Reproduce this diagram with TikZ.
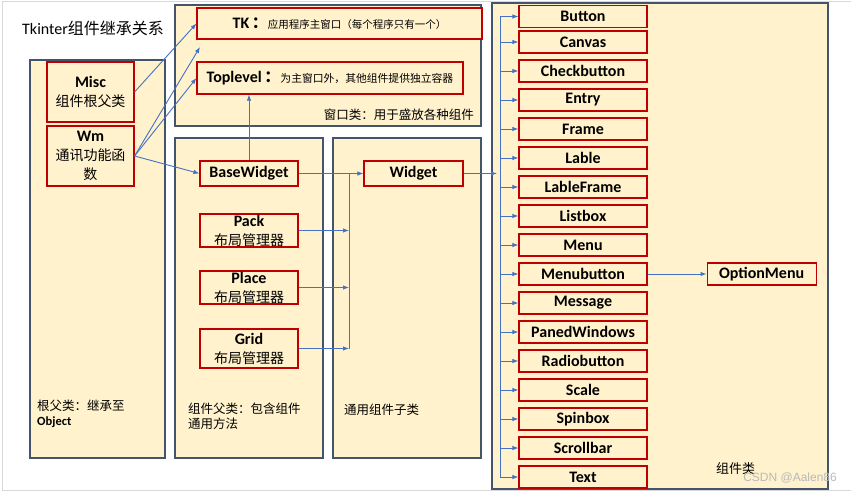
\documentclass[tikz,border=0pt]{standalone}
\usepackage{fontspec}
\setmainfont{Carlito}
\newfontfamily\cjk{Noto Sans CJK SC}
\newfontfamily\wmfont{Liberation Sans}
\usetikzlibrary{positioning,arrows.meta}
\newdimen\itemDist
\itemDist=29pt
\definecolor{paneltan}{HTML}{FFF2CC}
\definecolor{panelgray}{HTML}{44546A}
\definecolor{boxred}{HTML}{C00000}
\definecolor{wireblue}{HTML}{4472C4}
\newcommand{\zh}[2][14]{{\cjk\mdseries\fontsize{#1}{19}\selectfont #2}}

\begin{document}
\begin{tikzpicture}[x=1pt,y=-1pt,
    panel/.style={%
      draw=panelgray,
      fill=paneltan,
      line width=1.1pt,
    },
    cls/.style={%
      draw=boxred,
      fill=paneltan,
      line width=1.1pt,
      rectangle,
      inner sep=0pt,
      align=center,
      font=\fontsize{16}{19}\selectfont\bfseries,
    },
    mgr/.style={cls, minimum width=98pt, minimum height=33pt},
    item/.style={cls, minimum width=128pt, minimum height=22pt},
    note/.style={inner sep=0pt, align=left, anchor=west,
      font=\cjk\fontsize{12.5}{15}\selectfont},
    wire/.style={draw=wireblue, line width=0.9pt},
    arr/.style={wire, -{Latex[length=6pt,width=4.5pt]}},
  ]

    \useasboundingbox (0,0) rectangle (852,492);
    \draw [gray!30] (851,1.5) -- (2.5,1.5) -- (2.5,490.5) -- (851,490.5);

    \node [anchor=west, inner sep=0pt, font=\fontsize{16}{19}\selectfont] (title) at (22,28)
      {Tkinter{\cjk 组件继承关系}};

    \draw [panel] (30,60) rectangle (165,458);
    \draw [panel] (175,5) rectangle (481,126);
    \draw [panel] (175,138) rectangle (323,458);
    \draw [panel] (333,138) rectangle (481,458);
    \draw [panel] (492,3) rectangle (828,489);

    \node [cls, minimum width=87pt, minimum height=60pt] (misc) at (90.5,92) {Misc\\\zh{组件根父类}};
    \node [cls, minimum width=87pt, minimum height=60pt] (wm) at (90.5,156) {Wm\\\zh{通讯功能函}\\\zh{数}};
    \node [cls, minimum width=285pt, minimum height=31pt] (tk) at (339.5,23.5)
      {TK\,{\cjk ：}\zh[10.5]{应用程序主窗口（每个程序只有一个）}};
    \node [cls, minimum width=266pt, minimum height=32pt] (toplevel) at (330,78)
      {Toplevel\,{\cjk ：}\zh[10.8]{为主窗口外，其他组件提供独立容器}};
    \node [cls, minimum width=98pt, minimum height=25pt] (basewidget) at (249,173.5) {BaseWidget};
    \node [cls, minimum width=99pt, minimum height=25pt] (widget) at (413.5,173.5) {Widget};
    \path (basewidget) ++(-90:57pt) node [mgr] (pack) {Pack\\\zh{布局管理器}};
    \path (pack) ++(-90:57pt) node [mgr] (place) {Place\\\zh{布局管理器}};
    \path (place) ++(-90:61pt) node [mgr, minimum height=39pt] (grid) {Grid\\\zh{布局管理器}};

    \node [item] (button) at (583,16.5) {Button};
    \node [item] (canvas) at (583,42) {Canvas};
    \path (canvas) ++(-90:\itemDist) node [item] (checkbutton) {Checkbutton};
    \path (checkbutton) ++(-90:\itemDist) node [item] (entry) {Entry};
    \path (entry) ++(-90:\itemDist) node [item] (frame) {Frame};
    \path (frame) ++(-90:\itemDist) node [item] (lable) {Lable};
    \path (lable) ++(-90:\itemDist) node [item] (lableframe) {LableFrame};
    \path (lableframe) ++(-90:\itemDist) node [item] (listbox) {Listbox};
    \path (listbox) ++(-90:\itemDist) node [item] (menu) {Menu};
    \path (menu) ++(-90:\itemDist) node [item] (menubutton) {Menubutton};
    \path (menubutton) ++(-90:\itemDist) node [item] (message) {Message};
    \path (message) ++(-90:\itemDist) node [item] (panedwindows) {PanedWindows};
    \path (panedwindows) ++(-90:\itemDist) node [item] (radiobutton) {Radiobutton};
    \path (radiobutton) ++(-90:\itemDist) node [item] (scale) {Scale};
    \path (scale) ++(-90:\itemDist) node [item] (spinbox) {Spinbox};
    \path (spinbox) ++(-90:\itemDist) node [item] (scrollbar) {Scrollbar};
    \path (scrollbar) ++(-90:\itemDist) node [item] (txt) {Text};
    \node [item, minimum width=109pt, right=59pt of menubutton] (optionmenu) {OptionMenu};

    \node [anchor=east, inner sep=0pt, font=\cjk\fontsize{12.5}{15}\selectfont] (winnote) at (474,115)
      {窗口类：用于盛放各种组件};
    \node [note] (rootnote) at (37,413.5) {根父类：继承至\\{\rmfamily\bfseries Object}};
    \node [note] (basenote) at (188,416.5) {组件父类：包含组件\\通用方法};
    \node [note] (subnote) at (344,410) {通用组件子类};
    \node [note, font=\cjk\fontsize{13}{15}\selectfont] (itemnote) at (716,469) {组件类};
    \node [anchor=east, inner sep=0pt, text=gray!55, font=\wmfont\fontsize{12}{14}\selectfont] (mark) at (837,478)
      {CSDN @Aalen86};

    \coordinate (wingap) at (200,47);
    \draw [arr] (misc.east) -- (tk.west);
    \draw [arr] (wm.east) -- (wingap);
    \draw [arr] (wm.east) -- (toplevel.west);
    \draw [arr] (wm.east) -- (basewidget.west);
    \draw [arr] (basewidget.north) -- (basewidget.north |- toplevel.south);
    \draw [arr] (basewidget) -- (widget);

    \coordinate (mgrbus) at (349,0);
    \draw [wire] (mgrbus |- basewidget) -- (mgrbus |- grid);
    \draw [arr] (pack) -- (mgrbus |- pack);
    \draw [arr] (place) -- (mgrbus |- place);
    \draw [arr] (grid) -- (mgrbus |- grid);

    \coordinate (itembus) at (500,0);
    \draw [arr] (widget) -- ([xshift=-3pt]itembus |- widget);
    \draw [wire] (itembus |- button) -- (itembus |- txt);
    \draw [arr] (itembus |- button) -- (button);
    \draw [arr] (itembus |- canvas) -- (canvas);
    \draw [arr] (itembus |- checkbutton) -- (checkbutton);
    \draw [arr] (itembus |- entry) -- (entry);
    \draw [arr] (itembus |- frame) -- (frame);
    \draw [arr] (itembus |- lable) -- (lable);
    \draw [arr] (itembus |- lableframe) -- (lableframe);
    \draw [arr] (itembus |- listbox) -- (listbox);
    \draw [arr] (itembus |- menu) -- (menu);
    \draw [arr] (itembus |- menubutton) -- (menubutton);
    \draw [arr] (itembus |- message) -- (message);
    \draw [arr] (itembus |- panedwindows) -- (panedwindows);
    \draw [arr] (itembus |- radiobutton) -- (radiobutton);
    \draw [arr] (itembus |- scale) -- (scale);
    \draw [arr] (itembus |- spinbox) -- (spinbox);
    \draw [arr] (itembus |- scrollbar) -- (scrollbar);
    \draw [arr] (itembus |- txt) -- (txt);
    \draw [arr] (menubutton) -- (optionmenu);

\end{tikzpicture}
\end{document}
